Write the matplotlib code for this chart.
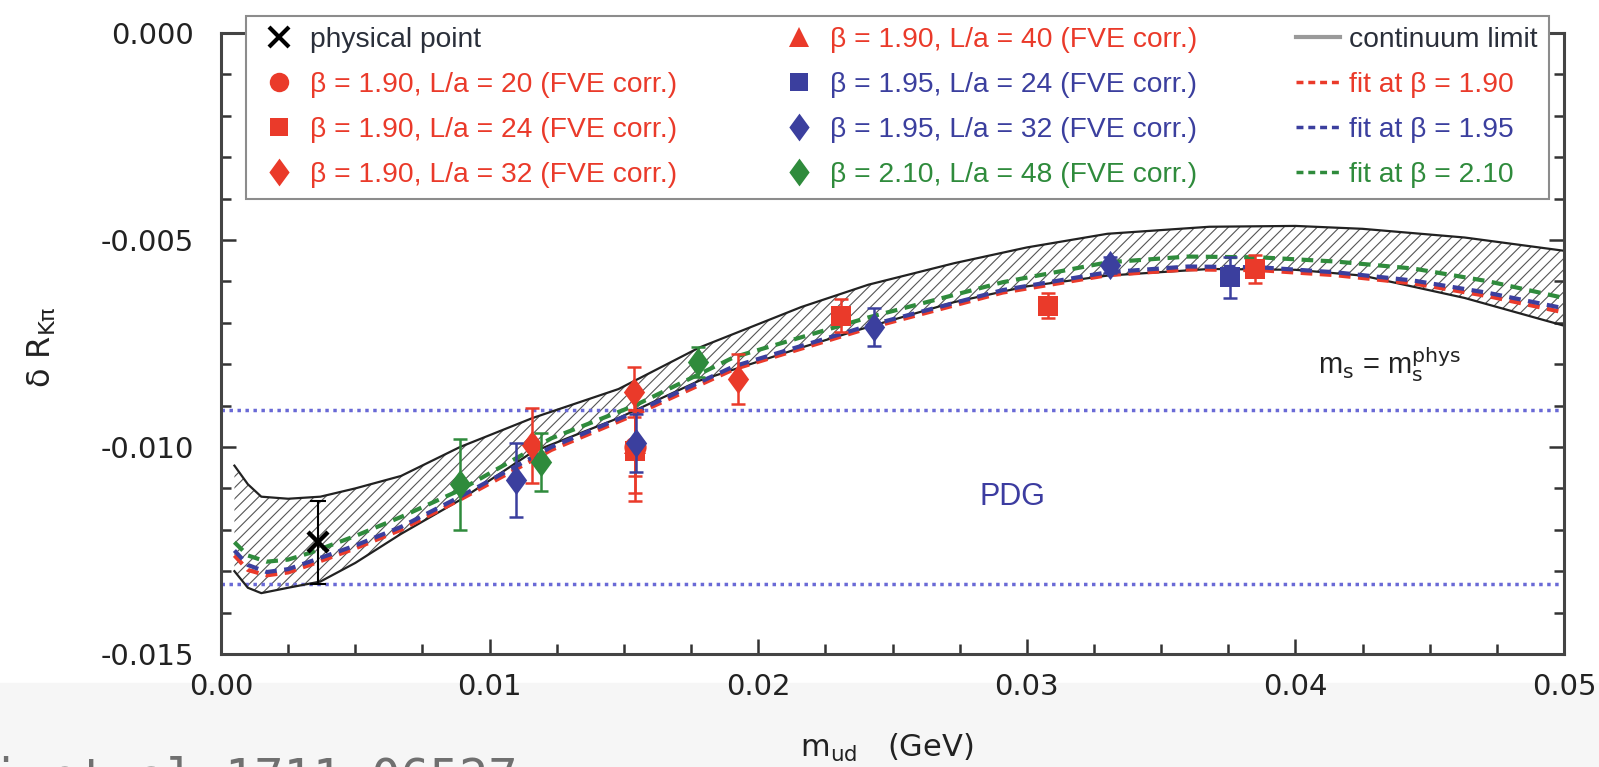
import matplotlib
matplotlib.use("Agg")
import matplotlib.pyplot as plt
from matplotlib.lines import Line2D
from matplotlib.patches import Rectangle
from matplotlib.font_manager import FontProperties
from matplotlib.ticker import MultipleLocator, FormatStrFormatter

plt.rcParams['font.family'] = ['DejaVu Sans']
plt.rcParams['mathtext.fontset'] = 'custom'
plt.rcParams['mathtext.rm'] = 'DejaVu Sans'
plt.rcParams['mathtext.it'] = 'DejaVu Sans:italic'
plt.rcParams['mathtext.default'] = 'regular'
plt.rcParams['axes.unicode_minus'] = False
plt.rcParams['hatch.linewidth'] = 0.8

RED = '#ea3a2a'
BLUE = '#3b3f9e'
GREEN = '#2f8b3c'
PDG_BLUE = '#6a6ad6'
SANS = ['Liberation Sans', 'DejaVu Sans']

# continuum limit band (m_ud in GeV)
m_band = [0.0005, 0.0010, 0.0015, 0.0025, 0.0037, 0.0050, 0.0067, 0.0089, 0.0116,
          0.0148, 0.0178, 0.0216, 0.0241, 0.0273, 0.0300, 0.0330, 0.0368, 0.0400,
          0.0425, 0.0463, 0.0500]
band_hi = [-0.01045, -0.01090, -0.01120, -0.01125, -0.01120, -0.01100, -0.01070,
           -0.01000, -0.00930, -0.00860, -0.00760, -0.00662, -0.00608, -0.00556,
           -0.00518, -0.00485, -0.00468, -0.00466, -0.00473, -0.00494, -0.00526]
band_lo = [-0.01300, -0.01340, -0.01353, -0.01340, -0.01325, -0.01280, -0.01210,
           -0.01128, -0.01012, -0.00930, -0.00840, -0.00760, -0.00710, -0.00650,
           -0.00612, -0.00586, -0.00570, -0.00572, -0.00586, -0.00640, -0.00707]

# fits at fixed beta
m_fit = [0.0005, 0.0010, 0.0017, 0.0025, 0.0033, 0.0050, 0.0067, 0.0089, 0.0123,
         0.0154, 0.0191, 0.0241, 0.0291, 0.0330, 0.0360, 0.0387, 0.0415, 0.0444,
         0.0472, 0.0500]
fit_210 = [-0.01230, -0.01262, -0.01277, -0.01272, -0.01256, -0.01215, -0.01169,
           -0.01104, -0.00979, -0.00900, -0.00783, -0.00687, -0.00602, -0.00554,
           -0.00540, -0.00542, -0.00552, -0.00569, -0.00600, -0.00640]
fit_195 = [-0.01250, -0.01285, -0.01302, -0.01295, -0.01277, -0.01238, -0.01193,
           -0.01120, -0.01000, -0.00916, -0.00805, -0.00707, -0.00621, -0.00578,
           -0.00564, -0.00566, -0.00578, -0.00598, -0.00628, -0.00665]
fit_190 = [-0.01262, -0.01297, -0.01310, -0.01303, -0.01285, -0.01245, -0.01200,
           -0.01127, -0.01007, -0.00922, -0.00812, -0.00713, -0.00627, -0.00585,
           -0.00571, -0.00573, -0.00585, -0.00605, -0.00636, -0.00675]

# lattice points (FVE corrected): m_ud, dR, error
b190_L20 = ([0.0154], [-0.0100], [0.0013])
b190_L24 = ([0.0154, 0.0231, 0.0308, 0.0385], [-0.0101, -0.00683, -0.00659, -0.0057],
            [0.0010, 0.0004, 0.0003, 0.00034])
b190_L32 = ([0.01157, 0.01539, 0.01924], [-0.00996, -0.00867, -0.00835],
            [0.0009, 0.0006, 0.0006])
b190_L40 = ([0.0154], [-0.0099], [0.0008])
b195_L24 = ([0.03756], [-0.0059], [0.0005])
b195_L32 = ([0.0110, 0.01545, 0.0243, 0.0331], [-0.0108, -0.0099, -0.0071, -0.0056],
            [0.0009, 0.0007, 0.00046, 0.0002])
b210_L48 = ([0.0089, 0.0119, 0.01775], [-0.0109, -0.01036, -0.00795],
            [0.0011, 0.0007, 0.00036])

phys_m, phys_val, phys_err = 0.0036, -0.0123, 0.0010
pdg_val, pdg_err = -0.0112, 0.0021

DIAMOND = [(0, 1), (0.73, 0), (0, -1), (-0.73, 0), (0, 1)]

fig = plt.figure(figsize=(15.99, 7.67), dpi=100)
fig.patches.append(Rectangle((0, 0), 1, 1 - 683 / 767, transform=fig.transFigure,
                             color='#f6f6f6', zorder=-5))
ax = fig.add_axes([221 / 1599, 1 - 654 / 767, (1564 - 221) / 1599, (654 - 33) / 767])

# continuum band
ax.fill_between(m_band, band_lo, band_hi, facecolor='white', edgecolor='#555555',
                hatch='///', linewidth=0, zorder=1)
ax.plot(m_band, band_hi, color='#222222', lw=1.6, zorder=2)
ax.plot(m_band, band_lo, color='#222222', lw=1.6, zorder=2)

# PDG range
for yv in (pdg_val + pdg_err, pdg_val - pdg_err):
    ax.axhline(yv, color=PDG_BLUE, lw=2.5, ls=(0, (1, 1.3)), zorder=1.5)

# fits
dash = (0, (2.8, 1.8))
ax.plot(m_fit, fit_190, color=RED, lw=3, ls=dash, zorder=3)
ax.plot(m_fit, fit_195, color=BLUE, lw=3, ls=dash, zorder=3.1)
ax.plot(m_fit, fit_210, color=GREEN, lw=3, ls=dash, zorder=3.2)


def points(data, marker, color, ms, z):
    x, y, e = data
    ax.errorbar(x, y, yerr=e, fmt='none', ecolor=color, elinewidth=1.8,
                capsize=5, capthick=1.8, zorder=z)
    ax.plot(x, y, ls='none', marker=marker, color=color, ms=ms, mew=0, zorder=z + 0.05)


points(b190_L20, 'o', RED, 16, 4)
points(b190_L24, 's', RED, 14, 4.1)
points(b190_L40, '^', RED, 16, 4.2)
points(b190_L32, DIAMOND, RED, 21, 4.3)
points(b195_L24, 's', BLUE, 14, 4.4)
points(b195_L32, DIAMOND, BLUE, 21, 4.5)
points(b210_L48, DIAMOND, GREEN, 21, 4.6)

ax.errorbar([phys_m], [phys_val], yerr=[phys_err], fmt='none', ecolor='black',
            elinewidth=1.5, capsize=6, capthick=1.5, zorder=5)
ax.plot([phys_m], [phys_val], ls='none', marker='x', color='black', ms=15, mew=3.2, zorder=5.1)

ax.text(0.02945, pdg_val, 'PDG', ha='center', va='center', color='#3c3ca0',
        fontsize=22, family=SANS)
ax.text(0.0435, -0.0080, r'm$_{\mathrm{s}}$ = m$_{\mathrm{s}}^{\mathrm{phys}}$',
        ha='center', va='center', color='#222222', fontsize=21, family=SANS)

ax.set_xlim(0, 0.05)
ax.set_ylim(-0.015, 0.0)
ax.xaxis.set_major_locator(MultipleLocator(0.01))
ax.xaxis.set_minor_locator(MultipleLocator(0.0025))
ax.yaxis.set_major_locator(MultipleLocator(0.005))
ax.yaxis.set_minor_locator(MultipleLocator(0.001))
ax.xaxis.set_major_formatter(FormatStrFormatter('%.2f'))
ax.yaxis.set_major_formatter(FormatStrFormatter('%.3f'))
ax.tick_params(which='both', direction='in', top=True, right=True, width=1.8,
               color='#333333', labelsize=21, labelcolor='#222222')
ax.tick_params(axis='x', which='both', pad=14)
ax.tick_params(axis='y', which='both', pad=19.5)
ax.tick_params(which='major', length=11)
ax.tick_params(which='minor', length=7)
for sp in ax.spines.values():
    sp.set_linewidth(2.2)
    sp.set_color('#444444')

fig.text(42 / 1599, 1 - 347 / 767, r'δ R$_{\mathrm{Kπ}}$', rotation=90,
         ha='center', va='center', fontsize=23, color='#222222')
fig.text(800 / 1599, 1 - 757 / 767, r'm$_{\mathrm{ud}}$   (GeV)', ha='left',
         va='baseline', fontsize=22, color='#222222')
fig.text(-9 / 1599, -0.034, 'i et al 1711.06527', family='DejaVu Sans Mono',
         fontsize=35, color='#707070', va='baseline')

handles = [
    Line2D([], [], ls='none', marker='x', color='black', ms=14, mew=3),
    Line2D([], [], ls='none', marker='o', color=RED, ms=14, mew=0),
    Line2D([], [], ls='none', marker='s', color=RED, ms=13, mew=0),
    Line2D([], [], ls='none', marker=DIAMOND, color=RED, ms=20, mew=0),
    Line2D([], [], ls='none', marker='^', color=RED, ms=15, mew=0),
    Line2D([], [], ls='none', marker='s', color=BLUE, ms=13, mew=0),
    Line2D([], [], ls='none', marker=DIAMOND, color=BLUE, ms=20, mew=0),
    Line2D([], [], ls='none', marker=DIAMOND, color=GREEN, ms=20, mew=0),
    Line2D([], [], color='#9a9a9a', lw=3),
    Line2D([], [], color=RED, lw=2.5, ls=(0, (2, 1.4))),
    Line2D([], [], color=BLUE, lw=2.5, ls=(0, (2, 1.4))),
    Line2D([], [], color=GREEN, lw=2.5, ls=(0, (2, 1.4))),
]
labels = [
    'physical point',
    'β = 1.90, L/a = 20 (FVE corr.)',
    'β = 1.90, L/a = 24 (FVE corr.)',
    'β = 1.90, L/a = 32 (FVE corr.)',
    'β = 1.90, L/a = 40 (FVE corr.)',
    'β = 1.95, L/a = 24 (FVE corr.)',
    'β = 1.95, L/a = 32 (FVE corr.)',
    'β = 2.10, L/a = 48 (FVE corr.)',
    'continuum limit',
    'fit at β = 1.90',
    'fit at β = 1.95',
    'fit at β = 2.10',
]
label_colors = ['#2a2f3a', RED, RED, RED, RED, BLUE, BLUE, GREEN,
                '#2a2f3a', RED, BLUE, GREEN]

leg = ax.legend(handles, labels, ncol=3, mode='expand', loc='upper left',
                bbox_to_anchor=(246 / 1599, 1 - 200 / 767, (1549 - 246) / 1599, 184 / 767),
                bbox_transform=fig.transFigure,
                prop=FontProperties(family=SANS, size=20.3), frameon=True,
                fancybox=False, borderpad=0.4, labelspacing=0.67, handlelength=1.56,
                handletextpad=0.32, columnspacing=1.0, borderaxespad=0)
leg.get_frame().set_edgecolor('#8c8c8c')
leg.get_frame().set_linewidth(1.5)
leg.get_frame().set_alpha(1)
for t, c in zip(leg.get_texts(), label_colors):
    t.set_color(c)

fig.savefig('out.png', dpi=100)
